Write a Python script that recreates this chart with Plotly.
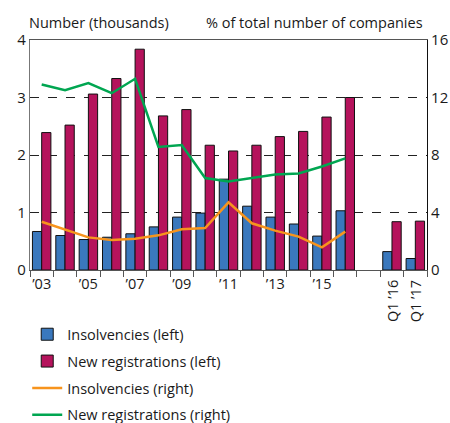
import plotly.graph_objects as go

# categories: 14 years, one empty slot, two first quarters
categories = [str(y) for y in range(2003, 2017)] + [" ", "Q1 2016", "Q1 2017"]
tick_text = ["’03", "", "’05", "", "’07", "", "’09", "", "’11", "", "’13", "", "’15", "", "", "", ""]
quarter_labels = ["Q1 ’16", "Q1 ’17"]

# left axis, thousands
insolvencies_left = [0.67, 0.60, 0.53, 0.57, 0.63, 0.75, 0.92, 0.99, 1.58, 1.11, 0.92, 0.80,
                     0.59, 1.03, None, 0.32, 0.20]
registrations_left = [2.39, 2.52, 3.06, 3.33, 3.84, 2.68, 2.79, 2.17, 2.07, 2.17, 2.32, 2.41,
                      2.66, 3.00, None, 0.84, 0.85]

# right axis, % of total number of companies (annual only)
years = categories[:14]
insolvencies_right = [3.36, 2.83, 2.27, 2.09, 2.18, 2.41, 2.83, 2.92, 4.71, 3.25, 2.74, 2.32, 1.58, 2.67]
registrations_right = [12.9, 12.5, 13.0, 12.3, 13.3, 8.56, 8.7, 6.4, 6.15, 6.4, 6.65, 6.72, 7.2, 7.77]

BLUE = "#3a78bd"
MAGENTA = "#b5135c"
ORANGE = "#f7941d"
GREEN = "#00a651"
FONT = "Open Sans"
TEXT = "#1a1a1a"
SIZE = 14.5

fig = go.Figure()
fig.add_trace(go.Bar(x=categories, y=insolvencies_left, name="Insolvencies (left)",
                     marker=dict(color=BLUE, line=dict(color="#111", width=1)),
                     legendgroup="a"))
fig.add_trace(go.Bar(x=categories, y=registrations_left, name="New registrations (left)",
                     marker=dict(color=MAGENTA, line=dict(color="#111", width=1)),
                     legendgroup="b"))
fig.add_trace(go.Scatter(x=years, y=insolvencies_right, name="Insolvencies (right)", yaxis="y2",
                         mode="lines", line=dict(color=ORANGE, width=2.5), legendgroup="c"))
fig.add_trace(go.Scatter(x=years, y=registrations_right, name="New registrations (right)", yaxis="y2",
                         mode="lines", line=dict(color=GREEN, width=2.5), legendgroup="d"))

for cat, label in zip(categories[-2:], quarter_labels):
    fig.add_annotation(x=cat, y=0, xref="x", yref="paper", text=label, showarrow=False,
                       textangle=-90, xanchor="center", yanchor="top", yshift=-8,
                       font=dict(family=FONT, size=SIZE, color=TEXT))

fig.add_annotation(x=0, y=1, xref="paper", yref="paper", text="Number (thousands)", showarrow=False,
                   xanchor="left", yanchor="bottom", xshift=-3, yshift=6,
                   font=dict(family=FONT, size=SIZE, color=TEXT))
fig.add_annotation(x=1, y=1, xref="paper", yref="paper", text="% of total number of companies",
                   showarrow=False, xanchor="right", yanchor="bottom", xshift=-2, yshift=6,
                   font=dict(family=FONT, size=SIZE, color=TEXT))

fig.update_layout(
    width=450, height=423,
    margin=dict(l=30, r=23, t=40, b=153, autoexpand=False),
    paper_bgcolor="white", plot_bgcolor="white",
    font=dict(family=FONT, size=14, color=TEXT),
    barmode="group", bargap=0.21, bargroupgap=0,
    showlegend=True,
    legend=dict(x=-0.007, y=-0.21, xanchor="left", yanchor="top", tracegroupgap=5,
                font=dict(size=SIZE), bgcolor="rgba(0,0,0,0)"),
    xaxis=dict(type="category", categoryorder="array", categoryarray=categories,
               tickvals=categories, ticktext=tick_text, tickangle=0, automargin=False,
               tickson="boundaries", ticks="outside", ticklen=6, tickcolor="#555",
               showline=True, linecolor="#555", linewidth=1.2, mirror=True,
               showgrid=False, range=[-0.5, 16.5], tickfont=dict(size=SIZE)),
    yaxis=dict(range=[0, 4], dtick=1, showgrid=True, gridcolor="#222", griddash="dash",
               gridwidth=1, showline=True, linecolor="#777", linewidth=1.2, zeroline=False,
               ticks="", ticklen=0, tickfont=dict(size=15), automargin=False),
    yaxis2=dict(range=[0, 16], dtick=4, overlaying="y", side="right", showgrid=False,
                showline=True, linecolor="#111", linewidth=1.2, zeroline=False, ticks="",
                tickfont=dict(size=15), automargin=False),
)

# drop the browser's default page margin so the figure sits at the window origin
fig.write_html("out.html", config={"displayModeBar": False},
               post_script="document.body.style.margin='0';")
